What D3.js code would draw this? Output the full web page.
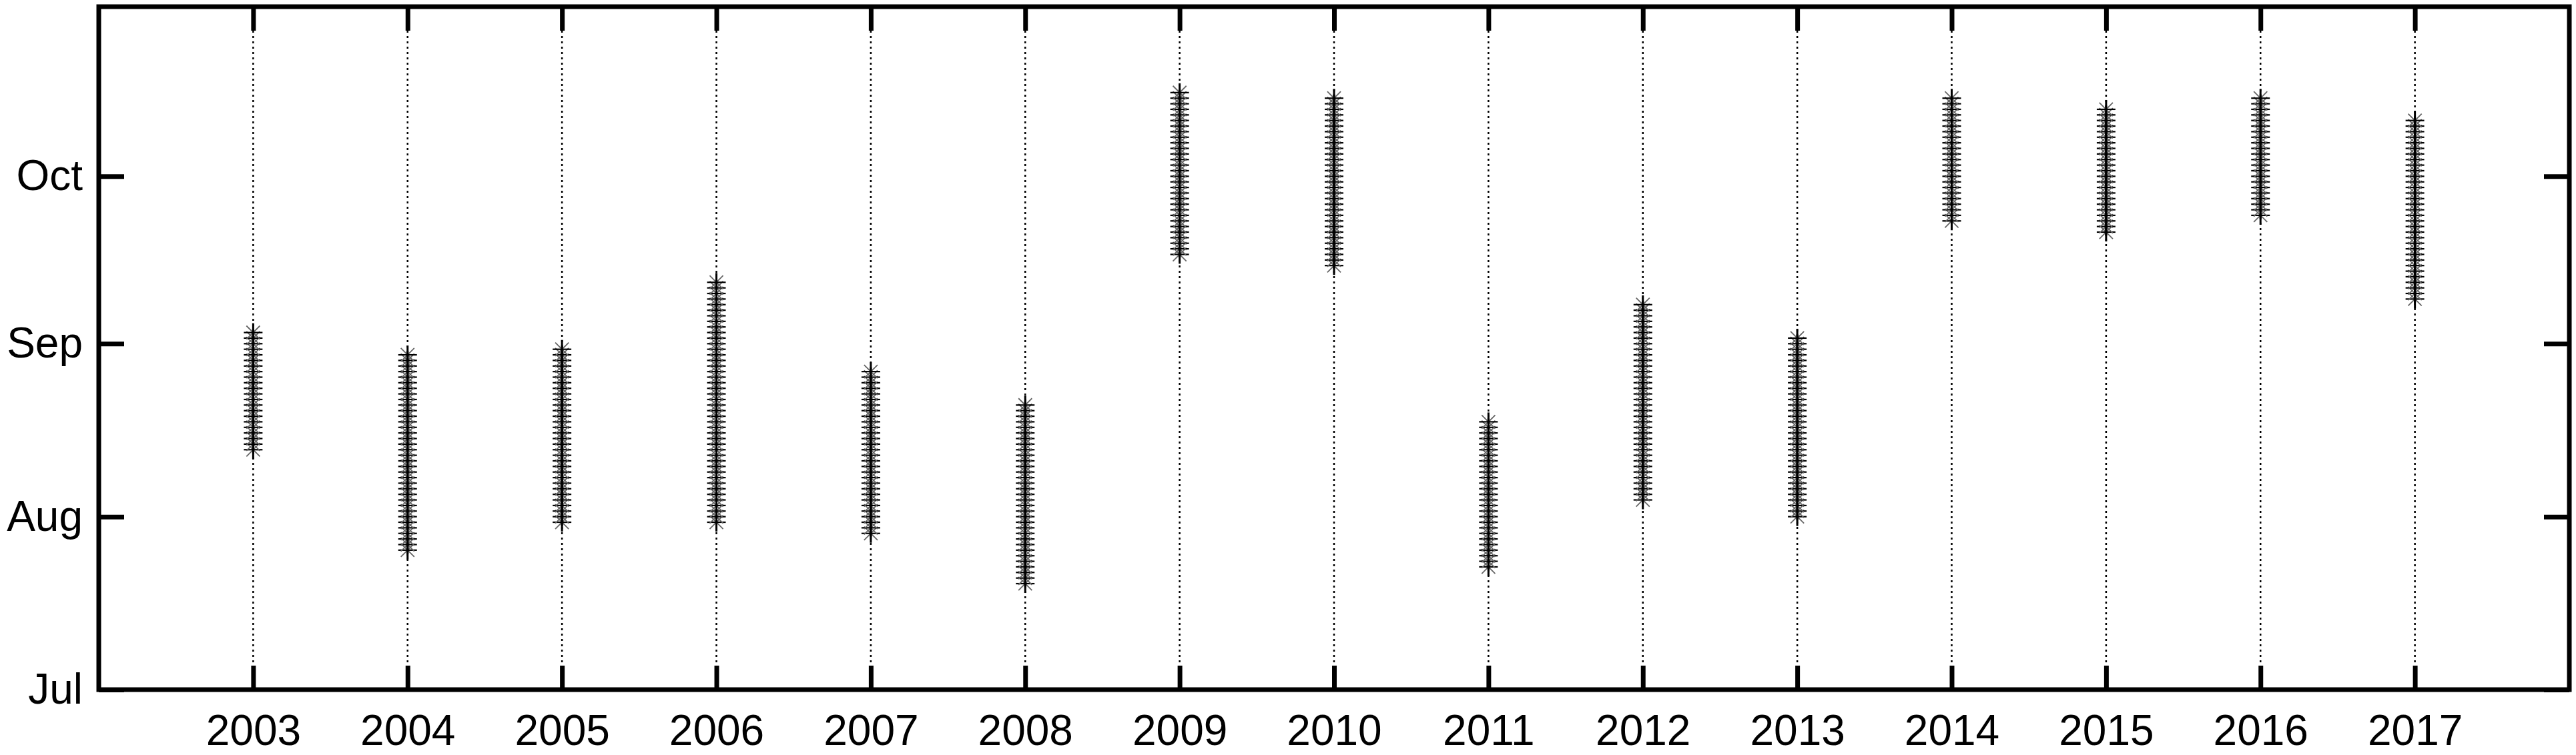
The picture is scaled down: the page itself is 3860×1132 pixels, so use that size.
<!DOCTYPE html>
<html>
<head>
<meta charset="utf-8">
<script src="https://cdn.jsdelivr.net/npm/d3@7"></script>
<style>
    html, body { margin: 0; padding: 0; background: #fff; }
    svg { display: block; }
    .axis text { font-family: "Liberation Sans", Arial, sans-serif; font-size: 64px; fill: #000; }
</style>
</head>
<body>
<svg id="chart" width="3860" height="1132"></svg>
<script>
(function () {
    "use strict";

    // x categories (one column of dates per year)
    const years = [2003, 2004, 2005, 2006, 2007, 2008, 2009, 2010, 2011, 2012, 2013, 2014, 2015, 2016, 2017];

    // y tick labels, placed on the first day of each month (days after 1 July)
    const monthLabels = ["Jul", "Aug", "Sep", "Oct"];
    const monthStartDays = [0, 31, 62, 92];

    // daily dates, as days after 1 July
    // (each column is an unbroken run of one marker per day)
    const d2003 = [43, 44, 45, 46, 47, 48, 49, 50, 51, 52, 53, 54, 55, 56, 57, 58, 59, 60, 61, 62, 63, 64];
    const d2004 = [25, 26, 27, 28, 29, 30, 31, 32, 33, 34, 35, 36, 37, 38, 39, 40, 41, 42, 43, 44, 45, 46,
                   47, 48, 49, 50, 51, 52, 53, 54, 55, 56, 57, 58, 59, 60];
    const d2005 = [30, 31, 32, 33, 34, 35, 36, 37, 38, 39, 40, 41, 42, 43, 44, 45, 46, 47, 48, 49, 50, 51,
                   52, 53, 54, 55, 56, 57, 58, 59, 60, 61];
    const d2006 = [30, 31, 32, 33, 34, 35, 36, 37, 38, 39, 40, 41, 42, 43, 44, 45, 46, 47, 48, 49, 50, 51,
                   52, 53, 54, 55, 56, 57, 58, 59, 60, 61, 62, 63, 64, 65, 66, 67, 68, 69, 70, 71, 72, 73];
    const d2007 = [28, 29, 30, 31, 32, 33, 34, 35, 36, 37, 38, 39, 40, 41, 42, 43, 44, 45, 46, 47, 48, 49,
                   50, 51, 52, 53, 54, 55, 56, 57];
    const d2008 = [19, 20, 21, 22, 23, 24, 25, 26, 27, 28, 29, 30, 31, 32, 33, 34, 35, 36, 37, 38, 39, 40,
                   41, 42, 43, 44, 45, 46, 47, 48, 49, 50, 51];
    const d2009 = [78, 79, 80, 81, 82, 83, 84, 85, 86, 87, 88, 89, 90, 91, 92, 93, 94, 95, 96, 97, 98, 99,
                   100, 101, 102, 103, 104, 105, 106, 107];
    const d2010 = [76, 77, 78, 79, 80, 81, 82, 83, 84, 85, 86, 87, 88, 89, 90, 91, 92, 93, 94, 95, 96, 97,
                   98, 99, 100, 101, 102, 103, 104, 105, 106];
    const d2011 = [22, 23, 24, 25, 26, 27, 28, 29, 30, 31, 32, 33, 34, 35, 36, 37, 38, 39, 40, 41, 42, 43,
                   44, 45, 46, 47, 48];
    const d2012 = [34, 35, 36, 37, 38, 39, 40, 41, 42, 43, 44, 45, 46, 47, 48, 49, 50, 51, 52, 53, 54, 55,
                   56, 57, 58, 59, 60, 61, 62, 63, 64, 65, 66, 67, 68, 69];
    const d2013 = [31, 32, 33, 34, 35, 36, 37, 38, 39, 40, 41, 42, 43, 44, 45, 46, 47, 48, 49, 50, 51, 52,
                   53, 54, 55, 56, 57, 58, 59, 60, 61, 62, 63];
    const d2014 = [84, 85, 86, 87, 88, 89, 90, 91, 92, 93, 94, 95, 96, 97, 98, 99, 100, 101, 102, 103, 104,
                   105, 106];
    const d2015 = [82, 83, 84, 85, 86, 87, 88, 89, 90, 91, 92, 93, 94, 95, 96, 97, 98, 99, 100, 101, 102,
                   103, 104];
    const d2016 = [85, 86, 87, 88, 89, 90, 91, 92, 93, 94, 95, 96, 97, 98, 99, 100, 101, 102, 103, 104, 105,
                   106];
    const d2017 = [70, 71, 72, 73, 74, 75, 76, 77, 78, 79, 80, 81, 82, 83, 84, 85, 86, 87, 88, 89, 90, 91,
                   92, 93, 94, 95, 96, 97, 98, 99, 100, 101, 102];

    const yearDates = [d2003, d2004, d2005, d2006, d2007, d2008, d2009, d2010,
                       d2011, d2012, d2013, d2014, d2015, d2016, d2017];

    // flat point table for the marks
    const points = [];
    years.forEach(function (yr, i) {
        yearDates[i].forEach(function (d) { points.push({ year: yr, day: d }); });
    });

    const W = 3860;
    const H = 1132;
    const margin = { top: 10, right: 10, bottom: 98, left: 148 };
    const innerW = W - margin.left - margin.right;
    const innerH = H - margin.top - margin.bottom;

    const AXIS_W = 7;      // frame + tick thickness
    const TICK = 36;       // inward tick length
    const MARK = 14;       // asterisk arm length

    const svg = d3.select("#chart");
    const g = svg.append("g")
        .attr("transform", `translate(${margin.left},${margin.top})`);

    const x = d3.scaleLinear().domain([2002, 2018]).range([0, innerW]);
    // top edge sits just short of 1 November
    const y = d3.scaleLinear().domain([0, 122.4]).range([innerH, 0]);

    // dotted year lines between the tick ends
    g.selectAll(".year-line")
        .data(years)
        .enter()
        .append("line")
        .attr("class", "year-line")
        .attr("x1", (d) => x(d)).attr("x2", (d) => x(d))
        .attr("y1", TICK).attr("y2", innerH - TICK)
        .attr("stroke", "#000")
        .attr("stroke-width", 2.5)
        .attr("stroke-dasharray", "3 5");

    // asterisk markers: "+" part in black, "x" part lighter
    const diag = MARK * 0.72;
    const marks = g.selectAll(".mark")
        .data(points)
        .enter()
        .append("g")
        .attr("class", "mark")
        .attr("transform", (d) => `translate(${x(d.year)},${y(d.day)})`);

    marks.append("path")
        .attr("d", `M${-diag},${-diag}L${diag},${diag}M${-diag},${diag}L${diag},${-diag}`)
        .attr("stroke", "#666")
        .attr("stroke-width", 1.8)
        .attr("fill", "none");

    marks.append("path")
        .attr("d", `M${-MARK},0H${MARK}`)
        .attr("stroke", "#000")
        .attr("stroke-width", 2.2)
        .attr("fill", "none");

    marks.append("path")
        .attr("d", `M0,${-MARK}V${MARK}`)
        .attr("stroke", "#000")
        .attr("stroke-width", 3)
        .attr("fill", "none");

    // axes: inward ticks on all four sides
    const yTickFormat = (d) => monthLabels[monthStartDays.indexOf(d)];

    const bottomAxis = g.append("g")
        .attr("class", "axis")
        .attr("transform", `translate(0,${innerH})`)
        .call(d3.axisBottom(x).tickValues(years).tickFormat(d3.format("d"))
            .tickSizeInner(-TICK).tickSizeOuter(0).tickPadding(38));

    const topAxis = g.append("g")
        .attr("class", "axis")
        .call(d3.axisTop(x).tickValues(years).tickFormat("")
            .tickSizeInner(-TICK).tickSizeOuter(0));

    const leftAxis = g.append("g")
        .attr("class", "axis")
        .call(d3.axisLeft(y).tickValues(monthStartDays).tickFormat(yTickFormat)
            .tickSizeInner(-38).tickSizeOuter(0).tickPadding(24));

    const rightAxis = g.append("g")
        .attr("class", "axis")
        .attr("transform", `translate(${innerW},0)`)
        .call(d3.axisRight(y).tickValues(monthStartDays).tickFormat("")
            .tickSizeInner(-38).tickSizeOuter(0));

    [bottomAxis, topAxis, leftAxis, rightAxis].forEach(function (ax) {
        ax.select(".domain").remove();
        ax.selectAll(".tick line")
            .attr("stroke", "#000")
            .attr("stroke-width", AXIS_W);
    });

    // frame
    g.append("rect")
        .attr("x", 0).attr("y", 0)
        .attr("width", innerW).attr("height", innerH)
        .attr("fill", "none")
        .attr("stroke", "#000")
        .attr("stroke-width", AXIS_W);
})();
</script>
</body>
</html>
